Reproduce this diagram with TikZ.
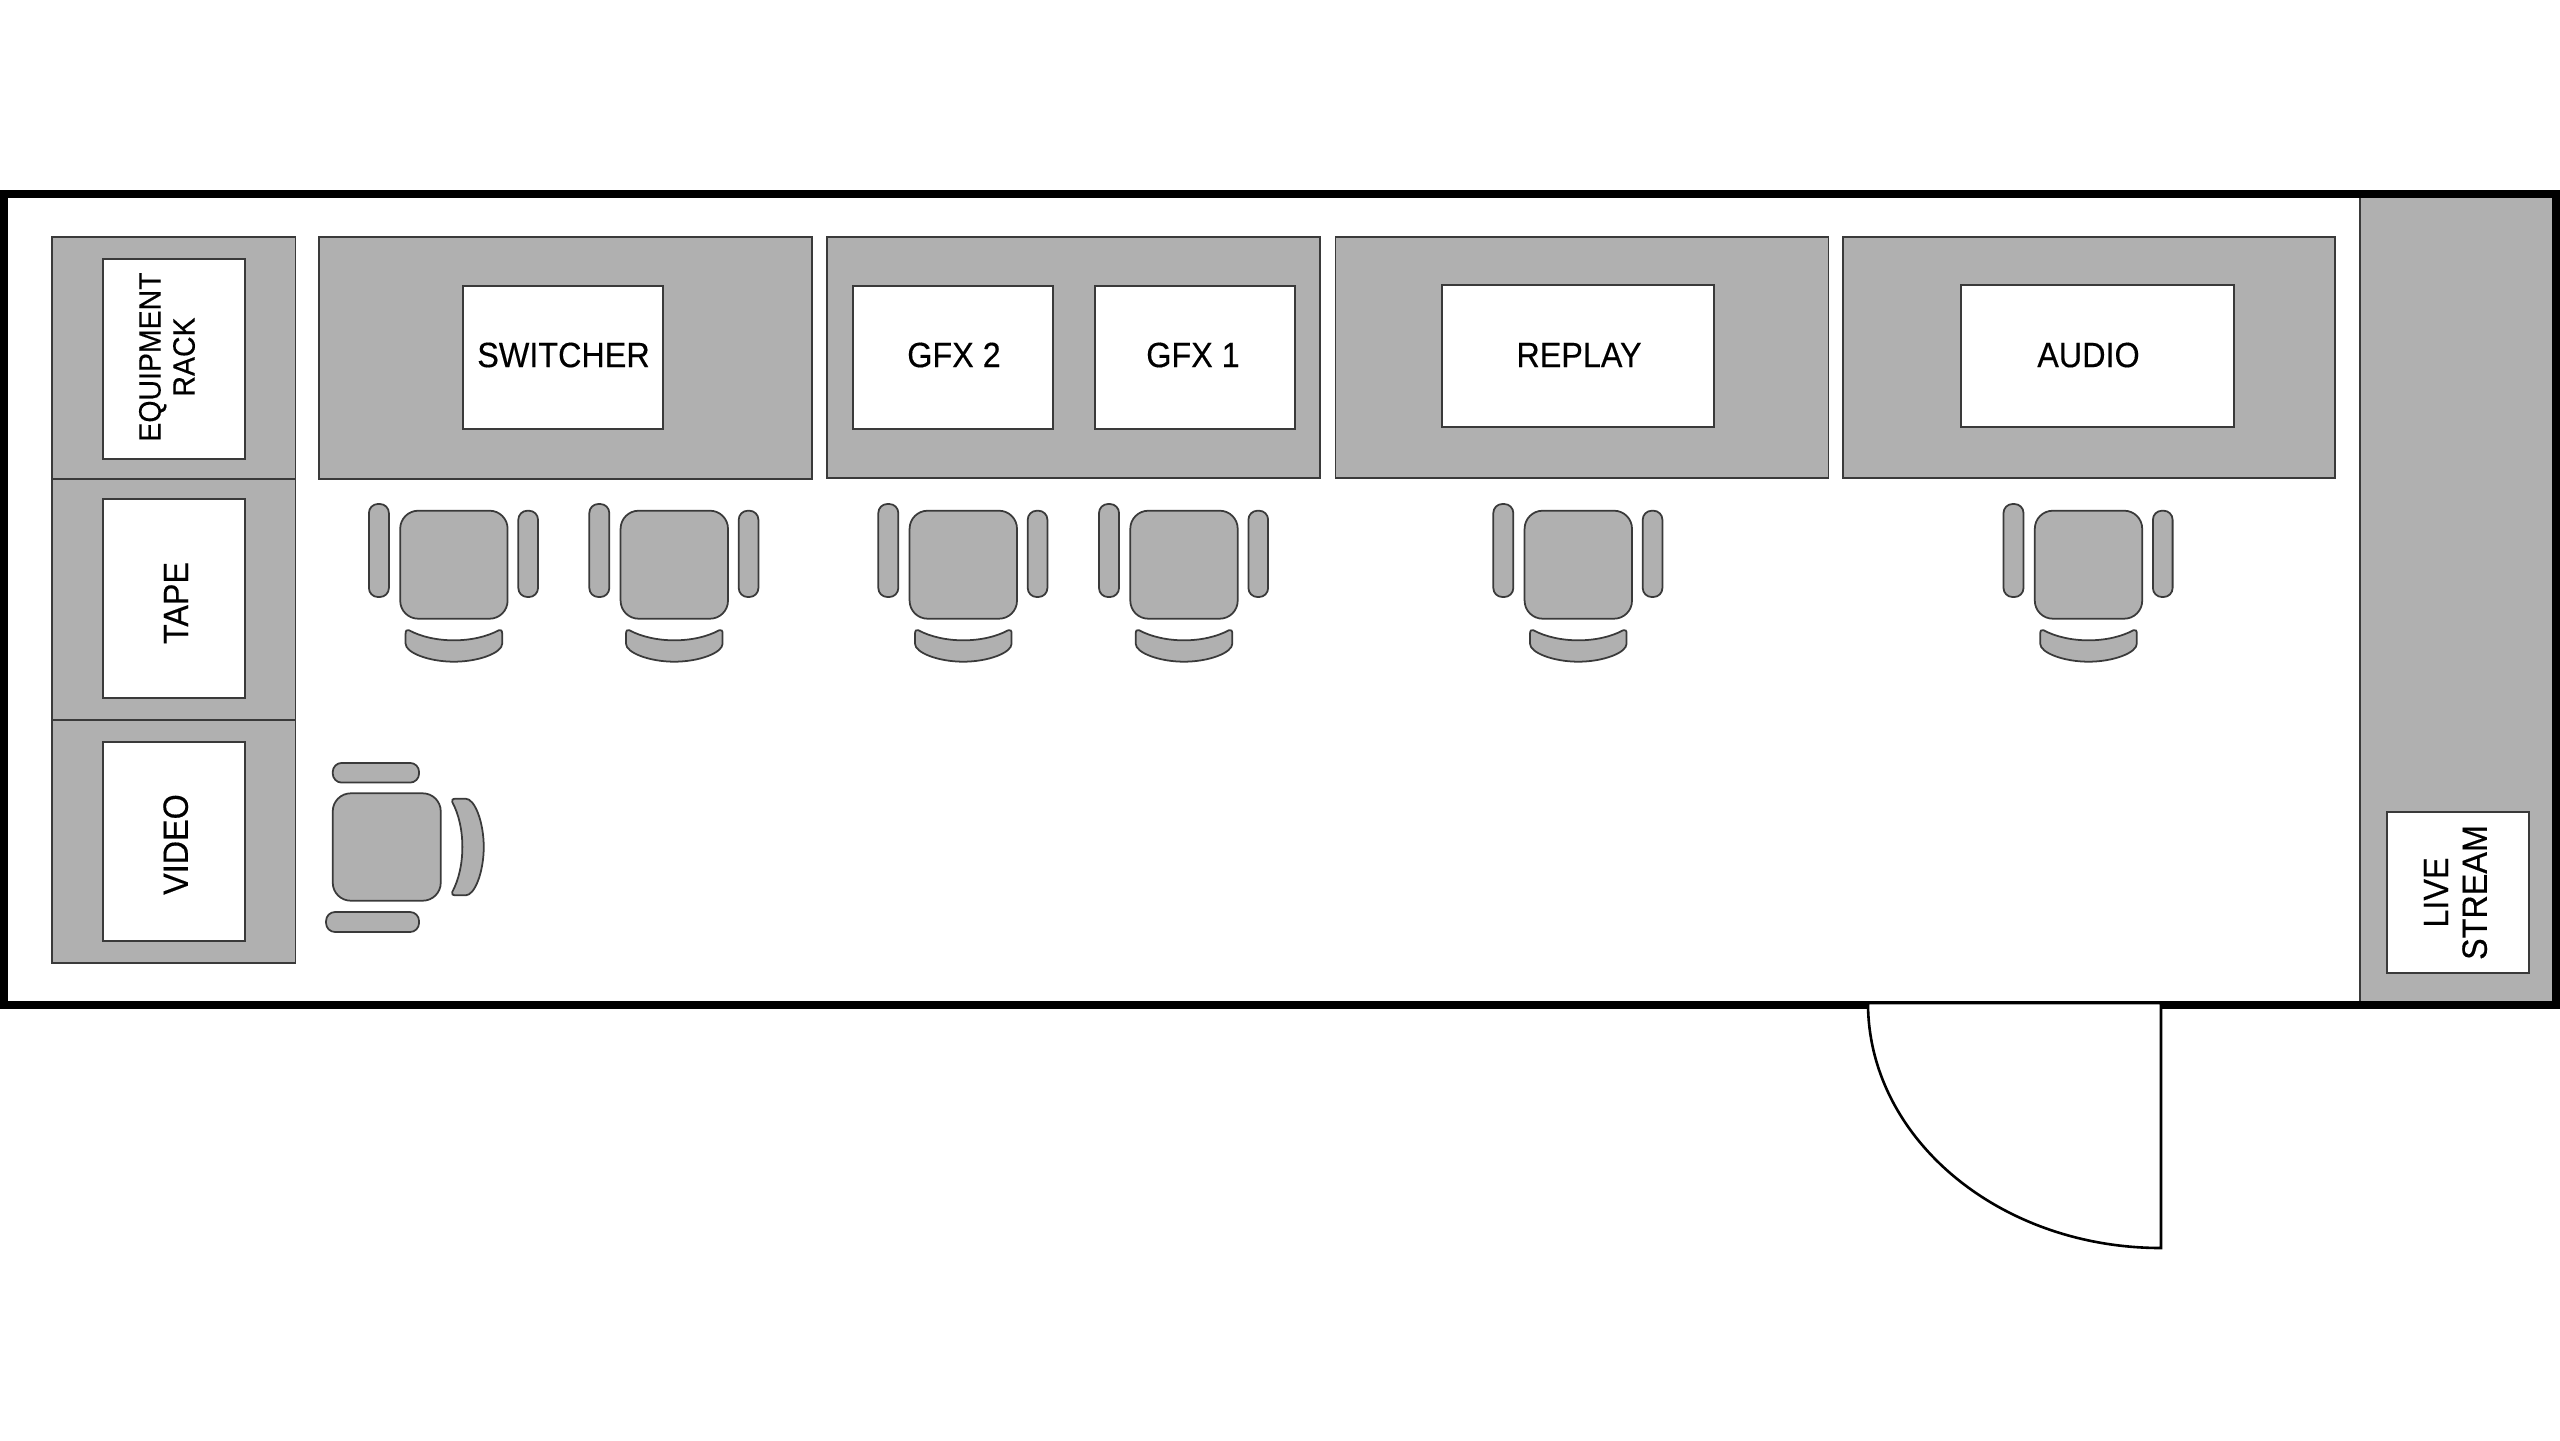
\documentclass[tikz,border=0pt]{standalone}
\usepackage{fontspec}
\setmainfont[FakeStretch=0.92,FakeBold=0.35]{Liberation Sans}
\usetikzlibrary{positioning}

\definecolor{grisplano}{HTML}{B0B0B0}
\definecolor{lineaplano}{HTML}{3A3A3A}

\tikzset{
	mesa/.style={rectangle, draw=lineaplano, fill=grisplano, line width=.55pt, inner sep=0pt, outer sep=0pt},
	monitor/.style={rectangle, draw=lineaplano, fill=white, line width=.55pt, inner sep=0pt, outer sep=0pt},
	rotulo/.style={inner sep=0pt, align=center, font=\fontsize{10}{11}\selectfont},
	rotulochico/.style={inner sep=0pt, align=center, font=\fontsize{8.8}{9.7}\selectfont},
	pieza/.style={draw=lineaplano, fill=grisplano, line width=.5pt},
	silla/.pic={
		\draw[pieza, rounded corners=.18cm] (-.537,-.54) rectangle (.537,.54);
		\draw[pieza, rounded corners=.09cm] (-.85,-.607) rectangle (-.65,.323);
		\draw[pieza, rounded corners=.09cm] (.644,-.54) rectangle (.841,.323);
		\draw[pieza] (-.45,.655) .. controls (-.2,.79) and (.2,.79) .. (.45,.655)
			.. controls (.47,.645) and (.483,.66) .. (.483,.69) -- (.483,.79)
			.. controls (.483,.88) and (.25,.97) .. (0,.97)
			.. controls (-.25,.97) and (-.483,.88) .. (-.483,.79) -- (-.483,.69)
			.. controls (-.483,.66) and (-.47,.645) .. (-.45,.655) -- cycle;
	}
}

\begin{document}
\begin{tikzpicture}[y=-1cm]
	\useasboundingbox (0,0) rectangle (25.6,14.4);

	% Columna derecha
	\node[mesa, minimum width=1.96cm, minimum height=8.11cm] (columna) at (24.58,6) {};

	% Muro
	\node[rectangle, draw=black, line width=.08cm, minimum width=25.515cm, minimum height=8.11cm, inner sep=0pt] (muro) at (12.7975,5.995) {};

	% Puerta
	\coordinate (bisagra) at (21.61,10.03);
	\coordinate (hoja) at (21.61,12.48);
	\coordinate (jamba) at (18.68,10.03);
	\draw[fill=white, line width=.026cm] (jamba) arc[start angle=180, end angle=270, x radius=2.93cm, y radius=2.45cm] -- (bisagra) -- cycle;

	% Racks
	\node[mesa, minimum width=2.432cm, minimum height=2.42cm] (rack_equipo) at (1.739,3.583) {};
	\node[mesa, minimum width=2.432cm, minimum height=2.407cm] (rack_cinta) at (1.739,5.997) {};
	\node[mesa, minimum width=2.432cm, minimum height=2.43cm] (rack_video) at (1.739,8.415) {};
	\node[monitor, minimum width=1.423cm, minimum height=1.994cm] (caja_equipo) at (1.742,3.59) {};
	\node[monitor, minimum width=1.423cm, minimum height=1.99cm] (caja_cinta) at (1.742,5.982) {};
	\node[monitor, minimum width=1.423cm, minimum height=1.99cm] (caja_video) at (1.742,8.415) {};

	% Mesas
	\node[mesa, minimum width=4.932cm, minimum height=2.417cm] (mesa_switcher) at (5.656,3.582) {};
	\node[mesa, minimum width=4.933cm, minimum height=2.413cm] (mesa_gfx) at (10.737,3.574) {};
	\node[mesa, minimum width=4.93cm, minimum height=2.41cm] (mesa_replay) at (15.82,3.575) {};
	\node[mesa, minimum width=4.927cm, minimum height=2.404cm] (mesa_audio) at (20.89,3.575) {};
	\node[monitor, minimum width=1.998cm, minimum height=1.427cm] (caja_switcher) at (5.633,3.573) {};
	\node[monitor, minimum width=1.996cm, minimum height=1.427cm] (caja_gfxdos) at (9.528,3.573) {};
	\node[monitor, minimum width=1.996cm, minimum height=1.427cm] (caja_gfxuno) at (11.952,3.573) {};
	\node[monitor, minimum width=2.727cm, minimum height=1.421cm] (caja_replay) at (15.78,3.56) {};
	\node[monitor, minimum width=2.733cm, minimum height=1.423cm] (caja_audio) at (20.972,3.561) {};
	\node[monitor, minimum width=1.425cm, minimum height=1.61cm] (caja_stream) at (24.578,8.928) {};

	% Rotulos
	\node[rotulochico, rotate=90] (txt_equipo) at (1.67,3.57) {EQUIPMENT\\RACK};
	\node[rotulo, rotate=90] (txt_cinta) at (1.76,6.03) {TAPE};
	\node[rotulo, rotate=90] (txt_video) at (1.757,8.445) {VIDEO};
	\node[rotulo] (txt_switcher) at (5.635,3.55) {SWITCHER};
	\node[rotulo] (txt_gfxdos) at (9.54,3.55) {GFX 2};
	\node[rotulo] (txt_gfxuno) at (11.93,3.55) {GFX 1};
	\node[rotulo] (txt_replay) at (15.79,3.55) {REPLAY};
	\node[rotulo] (txt_audio) at (20.885,3.55) {AUDIO};
	\node[rotulo, rotate=90] (txt_stream) at (24.555,8.925) {LIVE\\STREAM};

	% Sillas
	\foreach \x in {4.539,6.743,9.633,11.84,15.783,20.885}
		\pic at (\x,5.647) {silla};
	\pic[rotate=90] at (3.8675,8.47) {silla};

\end{tikzpicture}
\end{document}
